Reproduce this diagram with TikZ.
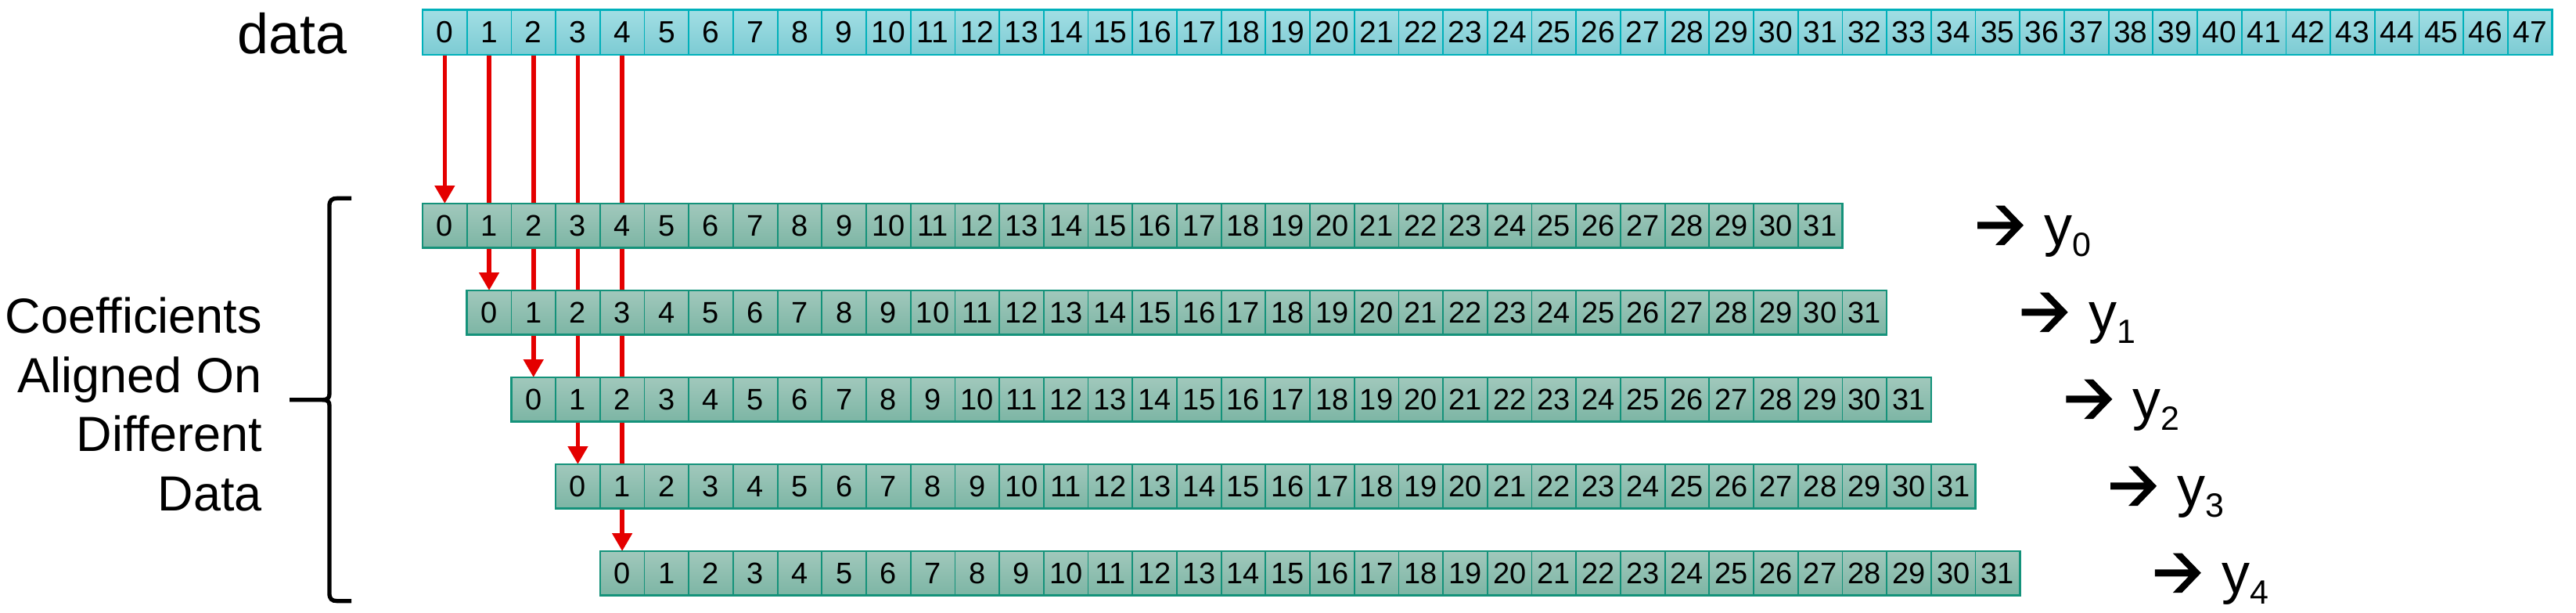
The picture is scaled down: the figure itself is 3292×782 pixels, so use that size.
\documentclass[tikz,border=0pt]{standalone}
\usepackage{fontspec}
\setmainfont{Liberation Sans}
\usetikzlibrary{arrows.meta}
\definecolor{dtop}{RGB}{162,222,228}
\definecolor{dbot}{RGB}{124,203,211}
\definecolor{dborder}{RGB}{0,176,186}
\definecolor{ctop}{RGB}{161,200,188}
\definecolor{cbot}{RGB}{124,181,164}
\definecolor{cborder}{RGB}{20,146,122}
\definecolor{arrred}{RGB}{228,0,0}
\pgfdeclarelayer{bg}
\pgfsetlayers{bg,main}
\begin{document}
\begin{tikzpicture}[x=0.5pt,y=-0.5pt,
  dcell/.style={draw=dborder, line width=0.9pt, top color=dtop, bottom color=dbot,
    minimum width=28.35pt, minimum height=28.65pt, inner sep=0pt, outer sep=0pt,
    font=\fontsize{19.5}{20}\selectfont},
  ccell/.style={draw=cborder, line width=0.9pt, top color=ctop, bottom color=cbot,
    minimum width=28.35pt, minimum height=28.35pt, inner sep=0pt, outer sep=0pt,
    font=\fontsize{19}{20}\selectfont},
  drow/.style={draw=dborder, line width=1.3pt},
  crow/.style={draw=cborder, line width=1.3pt},
  redarrow/.style={draw=arrred, line width=2.8pt, -{Triangle[width=12.25pt,length=11.4pt]}},
  brace/.style={draw=black, line width=2.65pt},
  bigtext/.style={inner sep=0pt, font=\fontsize{36}{40}\selectfont},
]
\useasboundingbox (0,0) rectangle (3292,782);
% data row
\foreach \i in {0,...,47}{
  \node[dcell] (d\i) at ({568.35+56.7*\i},41.35) {\i};
}
\draw[drow] (d0.north west) rectangle (d47.south east);
% coefficient rows
\foreach \j in {0,...,4}{
  \foreach \i in {0,...,31}{
    \node[ccell] (r\j-\i) at ({568.35+56.7*(\i+\j)},{288.35+111*\j}) {\i};
  }
  \draw[crow] (r\j-0.north west) rectangle (r\j-31.south east);
}
% red arrows behind rows
\begin{pgfonlayer}{bg}
\foreach \k in {0,...,4}{
  \draw[redarrow] (d\k.south) -- (r\k-0.north);
}
\end{pgfonlayer}
% labels
\node[bigtext, anchor=base east] (datalbl) at (444,68) {data};
\node[anchor=base east, align=right, inner sep=0pt, font=\fontsize{31.5}{37.9}\selectfont] (coef) at (335,652.7) {Coefficients\\Aligned On\\Different\\Data};
% brace
\draw[brace] (449,253.3) -- (431,253.3) .. controls (424,253.3) and (421,256) .. (421,263)
  -- (421,503) .. controls (421,508) and (419,510.7) .. (412,510.7) -- (370,510.7);
\draw[brace] (412,510.7) .. controls (419,510.7) and (421,513) .. (421,518)
  -- (421,758) .. controls (421,765) and (424,767.7) .. (431,767.7) -- (449,767.7);
% outputs
\foreach \j in {0,...,4}{
  \pgfmathsetmacro\ax{2527+56.7*\j}
  \pgfmathsetmacro\ay{287.8+111*\j}
  \fill[black, shift={(\ax,\ay)}] (0,-4.5) -- (43,-4.5) -- (23,-25.1) -- (34.7,-25.1) -- (59,0)
    -- (34.7,25.2) -- (23,25.2) -- (43,4.5) -- (0,4.5) -- cycle;
  \node[bigtext, anchor=base west] (y\j) at (\ax+85,\ay+25.6) {y\raisebox{-7pt}{\fontsize{21.5}{24}\selectfont\j}};
}
\end{tikzpicture}
\end{document}
